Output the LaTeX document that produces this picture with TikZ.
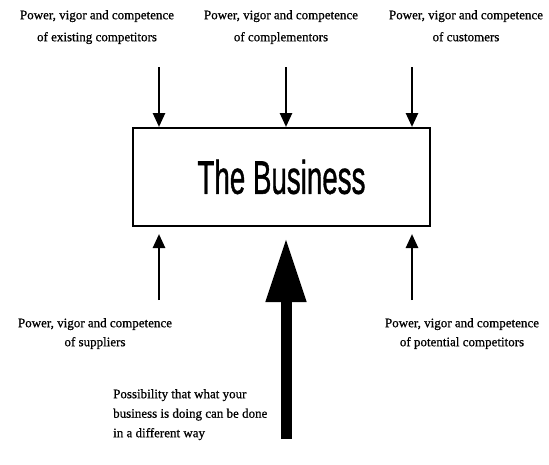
\documentclass[tikz,border=0pt]{standalone}
\usepackage{fontspec}
\setmainfont{Liberation Serif}
\newfontfamily\forcefont{Liberation Serif}[FakeBold=0.7]
\newfontfamily\boxfont{Liberation Sans}[FakeBold=1.2]
\usetikzlibrary{arrows.meta}
\usetikzlibrary{positioning}

\begin{document}
\begin{tikzpicture}[
		x=1pt, y=-1pt,
		force/.style={font=\forcefont\fontsize{13}{22}\selectfont, align=center, inner sep=0pt},
		press/.style={line width=2.6pt, -{Triangle[length=14pt,width=12pt]}},
		business/.style={draw, line width=2pt, minimum width=297pt, minimum height=98pt, inner sep=0pt}
	]
	\useasboundingbox (0,0) rectangle (549,464);

	\node[business] (B) at (281.5,177)
		{\scalebox{0.59}[1]{\boxfont\fontsize{47}{47}\selectfont The Business}};

	% forces from above
	\node[force, anchor=north] (comp) at (97,10) {Power, vigor and competence\\of existing competitors};
	\node[force, anchor=north] (cmpl) at (281,10) {Power, vigor and competence\\of complementors};
	\node[force, anchor=north] (cust) at (466,10) {Power, vigor and competence\\of customers};

	% forces from below
	\node[force, font=\forcefont\fontsize{13}{19}\selectfont, anchor=north] (supp) at (95,318) {Power, vigor and competence\\of suppliers};
	\node[force, font=\forcefont\fontsize{13}{19}\selectfont, anchor=north] (pot) at (462,318) {Power, vigor and competence\\of potential competitors};
	\node[force, font=\forcefont\fontsize{13}{19.5}\selectfont, align=left, anchor=north west] (way) at (113,389)
		{Possibility that what your\\business is doing can be done\\in a different way};

	\coordinate (t1) at (159,67);
	\coordinate (t2) at (286,67);
	\coordinate (t3) at (412,67);
	\coordinate (b1) at (159,300);
	\coordinate (b2) at (412,300);
	\coordinate (w) at (286,439);

	\draw[press] (t1) -- (t1 |- B.north);
	\draw[press] (t2) -- (t2 |- B.north);
	\draw[press] (t3) -- (t3 |- B.north);
	\draw[press] (b1) -- ([yshift=-7pt]b1 |- B.south);
	\draw[press] (b2) -- ([yshift=-7pt]b2 |- B.south);

	% the big one
	\draw[line width=11pt, -{Triangle[length=64pt,width=38pt]}] (w) -- ([yshift=-11pt]w |- B.south);
\end{tikzpicture}
\end{document}
